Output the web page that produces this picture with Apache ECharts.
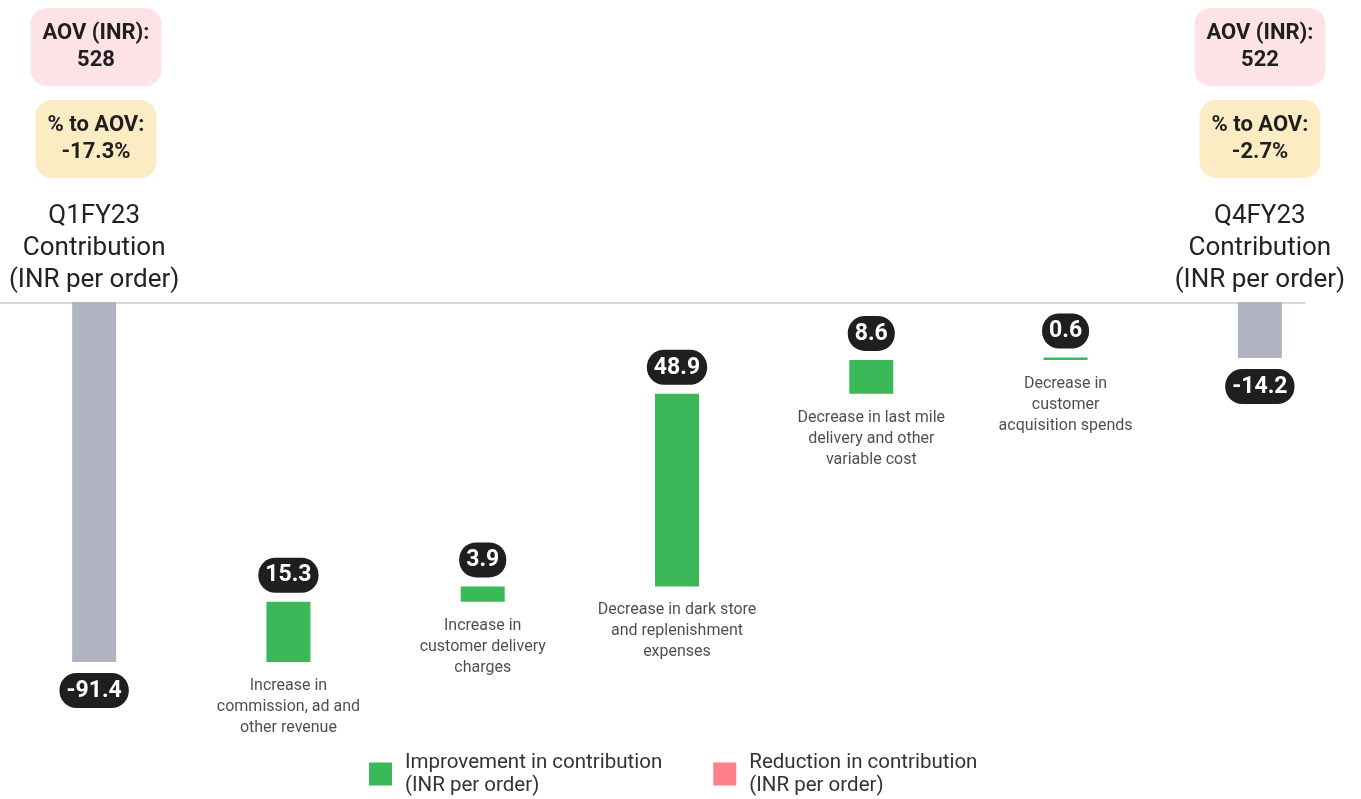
<!DOCTYPE html>
<html>
<head>
<meta charset="utf-8">
<title>Contribution per order bridge</title>
<script src="https://cdn.jsdelivr.net/npm/echarts@6/dist/echarts.min.js"></script>
<style>
  html, body { margin: 0; padding: 0; background: #fff; overflow: hidden; }
  #chart { width: 1364px; height: 799px; margin-left: -3px; }
</style>
</head>
<body>
<div id="chart"></div>
<script>
  // categories (first/last are the totals, the rest are the bridge steps)
  const categories = [
    'Q1FY23\nContribution\n(INR per order)',
    'Increase in\ncommission, ad and\nother revenue',
    'Increase in\ncustomer delivery\ncharges',
    'Decrease in dark store\nand replenishment\nexpenses',
    'Decrease in last mile\ndelivery and other\nvariable cost',
    'Decrease in\ncustomer\nacquisition spends',
    'Q4FY23\nContribution\n(INR per order)'
  ]
  const totalValues = [-91.4, '-', '-', '-', '-', '-', -14.2]
  const improvementValues = ['-', 15.3, 3.9, 48.9, 8.6, 0.6, '-']
  const reductionValues = ['-', '-', '-', '-', '-', '-', '-']
  const aovLabels = ['AOV (INR):\n528', 'AOV (INR):\n522']
  const aovShareLabels = ['% to AOV:\n-17.3%', '% to AOV:\n-2.7%']

  const improvementName = 'Improvement in contribution\n(INR per order)'
  const reductionName = 'Reduction in contribution\n(INR per order)'

  // invisible base for each floating step
  const baseValues = []
  let running = 0
  categories.forEach((c, i) => {
    if (totalValues[i] !== '-') {
      baseValues.push('-')
      running = totalValues[i]
    } else {
      baseValues.push(running)
      running += (improvementValues[i] !== '-' ? improvementValues[i] : 0)
      running -= (reductionValues[i] !== '-' ? reductionValues[i] : 0)
    }
  })

  const FONT = 'Roboto, "Noto Sans", sans-serif'
  const pill = {
    show: true,
    formatter: '{c}',
    color: '#fff',
    backgroundColor: '#1f1f1f',
    fontFamily: FONT,
    fontSize: 23,
    fontWeight: 'bold',
    lineHeight: 24,
    padding: [6, 7, 5, 7],
    borderRadius: 17
  }

  const boxText = (text, x, y, bg) => ({
    type: 'text',
    x: x,
    y: y,
    style: {
      text: text,
      textAlign: 'center',
      textVerticalAlign: 'top',
      fill: '#1f1f1f',
      font: 'bold 22px ' + FONT,
      lineHeight: 27,
      backgroundColor: bg,
      padding: [12, 12, 12, 12],
      borderRadius: 16
    }
  })

  const chart = echarts.init(document.getElementById('chart'))
  chart.setOption({
    animation: false,
    grid: [
      { left: 0, width: 1360, top: 302, bottom: 137 },
      { left: 3, width: 1305, top: 302, height: 1 }
    ],
    xAxis: [
      {
        type: 'category',
        gridIndex: 0,
        position: 'top',
        data: categories,
        axisLine: { show: false },
        axisTick: { show: false },
        axisLabel: {
          interval: 0,
          margin: 6,
          color: '#222',
          fontFamily: FONT,
          fontSize: 26,
          lineHeight: 32,
          formatter: (v, i) => (totalValues[i] !== '-' ? v : '')
        }
      },
      {
        type: 'value',
        gridIndex: 1,
        position: 'top',
        min: 0,
        max: 1,
        axisLine: { show: true, lineStyle: { color: '#cbcbcb', width: 1.5 } },
        axisTick: { show: false },
        axisLabel: { show: false },
        splitLine: { show: false }
      }
    ],
    yAxis: [
      { type: 'value', gridIndex: 0, min: 'dataMin', max: 0, show: false },
      { type: 'value', gridIndex: 1, min: 0, max: 1, show: false }
    ],
    legend: {
      left: 367,
      top: 746,
      data: [improvementName, reductionName],
      selectedMode: false,
      icon: 'rect',
      itemWidth: 23,
      itemHeight: 23,
      itemGap: 51,
      textStyle: {
        color: '#333',
        fontFamily: FONT,
        fontSize: 20.5,
        lineHeight: 23,
        padding: [0, 0, 0, 8]
      }
    },
    graphic: [
      boxText(aovLabels[0], 99, 8, '#fde3e6'),
      boxText(aovShareLabels[0], 99, 100, '#fbecc3'),
      boxText(aovLabels[1], 1263, 8, '#fde3e6'),
      boxText(aovShareLabels[1], 1263, 100, '#fbecc3')
    ],
    series: [
      {
        name: 'base',
        type: 'bar',
        stack: 'wf',
        barWidth: 44,
        barGap: '-100%',
        itemStyle: { color: 'transparent' },
        emphasis: { disabled: true },
        data: baseValues
      },
      {
        name: improvementName,
        type: 'bar',
        stack: 'wf',
        stackStrategy: 'all',
        barWidth: 44,
        barGap: '-100%',
        itemStyle: { color: '#3bb858' },
        label: Object.assign({}, pill, { position: 'top', distance: 9 }),
        data: improvementValues
      },
      {
        name: reductionName,
        type: 'bar',
        stack: 'wf',
        stackStrategy: 'all',
        barWidth: 44,
        barGap: '-100%',
        itemStyle: { color: '#ff7f8a' },
        data: reductionValues
      },
      {
        name: 'Total',
        type: 'bar',
        barWidth: 44,
        barGap: '-100%',
        itemStyle: { color: '#b0b4c2' },
        label: Object.assign({}, pill, { position: 'bottom', distance: 11 }),
        data: totalValues
      },
      {
        name: 'descriptions',
        type: 'scatter',
        symbolSize: 1,
        itemStyle: { color: 'transparent' },
        label: {
          show: true,
          position: 'bottom',
          distance: 13,
          formatter: (p) => p.name,
          color: '#1f1f1f',
          fontFamily: FONT,
          fontSize: 16,
          lineHeight: 21,
          align: 'center'
        },
        data: baseValues
      }
    ]
  })
</script>
</body>
</html>
